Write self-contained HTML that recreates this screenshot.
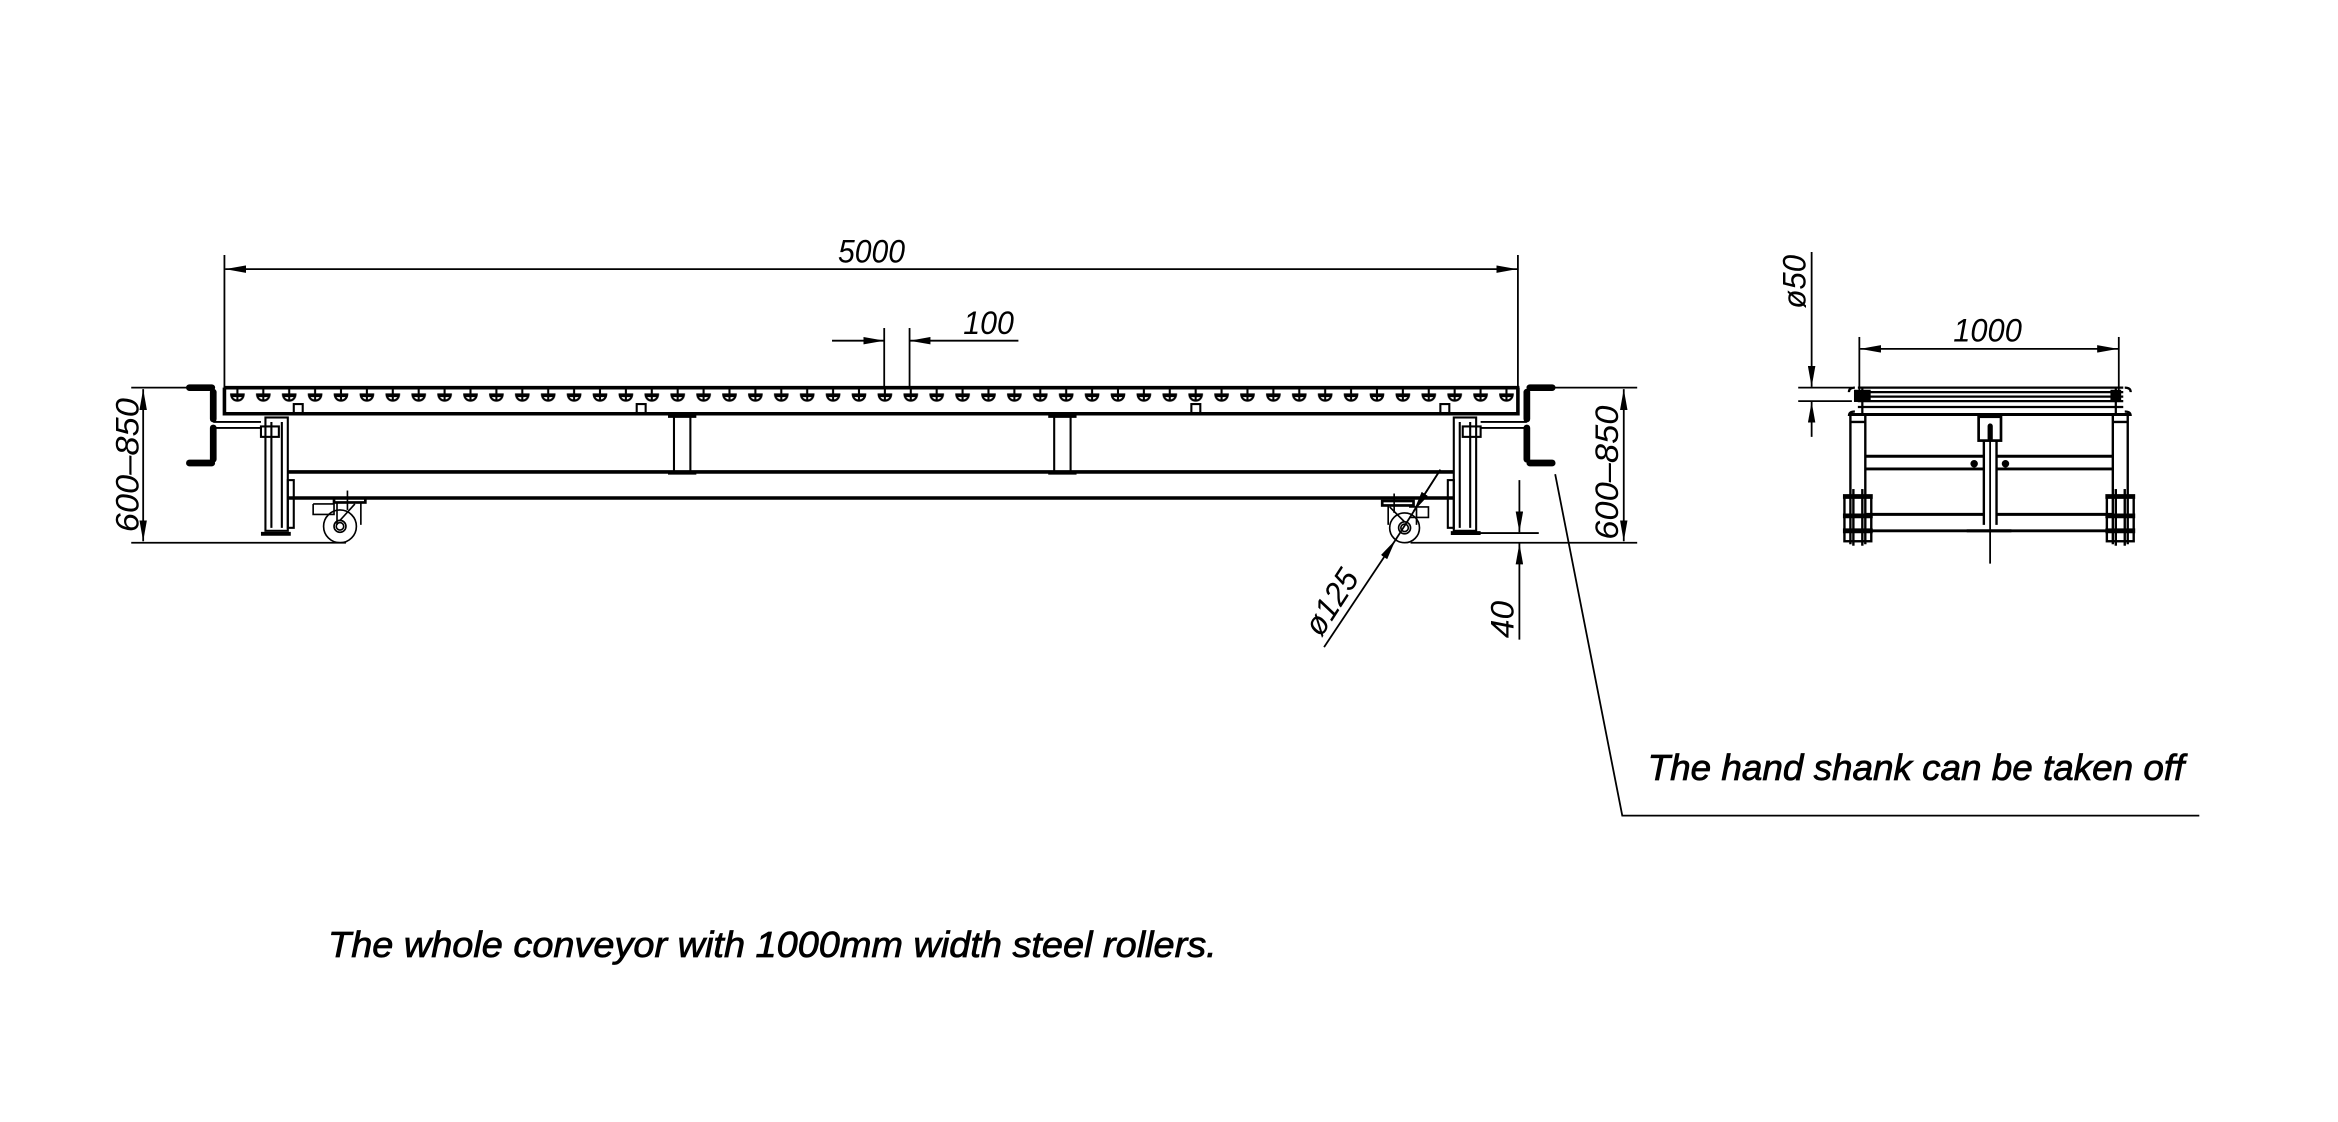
<!DOCTYPE html>
<html><head><meta charset="utf-8"><style>
html,body{margin:0;padding:0;background:#fff;}
svg{display:block;}
text{font-family:"Liberation Sans",sans-serif;font-style:italic;fill:#000;}
</style></head><body>
<svg width="2338" height="1122" viewBox="0 0 1568 752.5" xmlns="http://www.w3.org/2000/svg">
<defs>
<marker id="a" viewBox="0 0 14 5" refX="14" refY="2.5" markerWidth="14" markerHeight="5" markerUnits="userSpaceOnUse" orient="auto-start-reverse"><path d="M0,0 L14,2.5 L0,5 z" fill="#000"/></marker>
<pattern id="rol" x="150.2" y="258" width="17.37" height="16" patternUnits="userSpaceOnUse">
<path d="M4.8,6.5 A4.2,4.2 0 0 0 13.2,6.5 Z M9,3 V11 M5.2,7.6 H12.8" fill="none" stroke="#000" stroke-width="1.4"/>
</pattern>
</defs>
<g fill="none" stroke="#000" stroke-width="1.2">
<line x1="150.5" y1="171" x2="150.5" y2="262"/>
<line x1="1018" y1="171" x2="1018" y2="262"/>
<line x1="151" y1="180.5" x2="1017.5" y2="180.5" marker-start="url(#a)" marker-end="url(#a)"/>
<line x1="593" y1="220" x2="593" y2="261"/>
<line x1="610" y1="220" x2="610" y2="261"/>
<line x1="558" y1="228.5" x2="593" y2="228.5" marker-end="url(#a)"/>
<line x1="683" y1="228.5" x2="610" y2="228.5" marker-end="url(#a)"/>
<line x1="88" y1="260" x2="126" y2="260"/>
<line x1="88" y1="364" x2="232" y2="364"/>
<line x1="96" y1="261" x2="96" y2="363" marker-start="url(#a)" marker-end="url(#a)"/>
<line x1="1043" y1="260" x2="1098" y2="260"/>
<line x1="946" y1="364" x2="1098" y2="364"/>
<line x1="1089" y1="261" x2="1089" y2="363" marker-start="url(#a)" marker-end="url(#a)"/>
<line x1="985" y1="357.5" x2="1032" y2="357.5"/>
<line x1="1019" y1="322" x2="1019" y2="357" marker-end="url(#a)"/>
<line x1="1019" y1="429" x2="1019" y2="364.5" marker-end="url(#a)"/>
<line x1="888" y1="434" x2="936" y2="362" marker-end="url(#a)"/>
<line x1="936" y1="362" x2="966" y2="315"/>
<line x1="966" y1="315" x2="948" y2="343" marker-end="url(#a)"/>
<polyline points="1043,318 1088,547 1475,547"/>
</g>
<rect x="150.5" y="258" width="867" height="14" fill="url(#rol)"/>
<g fill="none" stroke="#000">
<line x1="150" y1="260" x2="1019" y2="260" stroke-width="2.4"/>
<polyline points="150.5,260 150.5,277.5 1018,277.5 1018,260" stroke-width="2.4"/>
<rect x="197" y="271" width="6" height="6" stroke-width="1.4"/>
<rect x="427" y="271" width="6" height="6" stroke-width="1.4"/>
<rect x="799" y="271" width="6" height="6" stroke-width="1.4"/>
<rect x="966" y="271" width="6" height="6" stroke-width="1.4"/>
<line x1="193" y1="316.5" x2="975" y2="316.5" stroke-width="2.4"/>
<line x1="193" y1="334" x2="975" y2="334" stroke-width="2.4"/>
<g stroke-width="1.4">
<line x1="452" y1="279" x2="452" y2="316"/><line x1="463" y1="279" x2="463" y2="316"/>
<line x1="707" y1="279" x2="707" y2="316"/><line x1="718" y1="279" x2="718" y2="316"/>
</g>
<g stroke-width="2.6">
<line x1="448" y1="279" x2="467" y2="279"/><line x1="448" y1="317" x2="467" y2="317"/>
<line x1="703" y1="279" x2="722" y2="279"/><line x1="703" y1="317" x2="722" y2="317"/>
</g>
<g stroke-width="1.4">
<rect x="178" y="280" width="15" height="76"/>
<line x1="182" y1="283" x2="182" y2="354"/><line x1="189" y1="283" x2="189" y2="354"/>
<rect x="175" y="286" width="12" height="7"/>
<rect x="193" y="322" width="4" height="32"/>
</g>
<line x1="175" y1="358" x2="195" y2="358" stroke-width="2.6"/>
<g stroke-width="4.5" stroke-linecap="round">
<line x1="127" y1="260" x2="142" y2="260"/>
<line x1="143" y1="263" x2="143" y2="281"/>
<line x1="143" y1="287" x2="143" y2="308"/>
<line x1="127" y1="310.5" x2="142" y2="310.5"/>
</g>
<g stroke-width="1.3"><line x1="143" y1="283" x2="175" y2="283"/><line x1="143" y1="287" x2="175" y2="287"/></g>
<g stroke-width="1.1">
<rect x="224" y="334" width="21" height="3" stroke-width="1.8"/>
<line x1="233" y1="329" x2="233" y2="342"/>
<polyline points="210,338 224,338 224,345 210,345 210,338"/>
<line x1="226" y1="337" x2="226" y2="352"/><line x1="242" y1="337" x2="242" y2="352"/>
<circle cx="228" cy="353" r="11"/>
<circle cx="228" cy="353" r="4"/><circle cx="228" cy="353" r="2.5"/>
<line x1="228" y1="349" x2="238" y2="338"/>
</g>
<g stroke-width="1.4">
<rect x="975" y="280" width="15" height="76"/>
<line x1="979" y1="283" x2="979" y2="354"/><line x1="986" y1="283" x2="986" y2="354"/>
<rect x="981" y="286" width="12" height="7"/>
<rect x="971" y="322" width="4" height="32"/>
</g>
<line x1="973" y1="357.5" x2="993" y2="357.5" stroke-width="2.6"/>
<g stroke-width="4.5" stroke-linecap="round">
<line x1="1026" y1="260" x2="1041" y2="260"/>
<line x1="1024" y1="263" x2="1024" y2="281"/>
<line x1="1024" y1="287" x2="1024" y2="308"/>
<line x1="1026" y1="310.5" x2="1041" y2="310.5"/>
</g>
<g stroke-width="1.3"><line x1="993" y1="283" x2="1024" y2="283"/><line x1="993" y1="287" x2="1024" y2="287"/></g>
<g stroke-width="1.1">
<rect x="927" y="336" width="21" height="3" stroke-width="1.8"/>
<line x1="935" y1="331" x2="935" y2="344"/>
<polyline points="945,340 958,340 958,347 945,347"/>
<line x1="931" y1="339" x2="931" y2="352"/><line x1="950" y1="339" x2="950" y2="352"/>
<circle cx="942" cy="354" r="10"/>
<circle cx="942" cy="354" r="4"/><circle cx="942" cy="354" r="2.5"/>
<line x1="942" y1="350" x2="932" y2="340"/>
</g>
</g>
<g fill="none" stroke="#000" stroke-width="1.2">
<line x1="1215" y1="169" x2="1215" y2="259.5" marker-end="url(#a)"/>
<line x1="1215" y1="293" x2="1215" y2="269.5" marker-end="url(#a)"/>
<line x1="1206" y1="260" x2="1242" y2="260"/>
<line x1="1206" y1="269" x2="1242" y2="269"/>
<line x1="1247" y1="226" x2="1247" y2="262"/>
<line x1="1421" y1="226" x2="1421" y2="262"/>
<line x1="1247.5" y1="234" x2="1420.5" y2="234" marker-start="url(#a)" marker-end="url(#a)"/>
<g stroke-width="1.5">
<line x1="1246" y1="260" x2="1424" y2="260"/>
<line x1="1246" y1="263" x2="1424" y2="263"/>
<line x1="1246" y1="266" x2="1424" y2="266"/>
<line x1="1246" y1="269" x2="1424" y2="269"/>
<line x1="1246" y1="273" x2="1424" y2="273"/>
<line x1="1249" y1="260" x2="1249" y2="278"/><line x1="1419" y1="260" x2="1419" y2="278"/>
</g>
<path d="M1240,263 q0,-3 4,-3 M1429,263 q0,-3 -4,-3 M1240,279 q0,-3 4,-3 M1429,279 q0,-3 -4,-3" stroke-width="1.5"/>
<rect x="1244" y="262" width="10" height="7" fill="#000"/>
<rect x="1416" y="262" width="6" height="7" fill="#000"/>
<line x1="1240" y1="278" x2="1429" y2="278" stroke-width="2"/>
<g stroke-width="1.6">
<line x1="1241" y1="278" x2="1241" y2="365"/><line x1="1251" y1="278" x2="1251" y2="365"/>
<line x1="1417" y1="278" x2="1417" y2="365"/><line x1="1427" y1="278" x2="1427" y2="365"/>
<line x1="1241" y1="283" x2="1251" y2="283"/><line x1="1417" y1="283" x2="1427" y2="283"/>
</g>
<g stroke-width="2">
<line x1="1251" y1="306" x2="1331" y2="306"/><line x1="1339" y1="306" x2="1417" y2="306"/>
<line x1="1251" y1="314.5" x2="1331" y2="314.5"/><line x1="1339" y1="314.5" x2="1417" y2="314.5"/>
<line x1="1251" y1="345" x2="1331" y2="345"/><line x1="1339" y1="345" x2="1417" y2="345"/>
<line x1="1251" y1="356" x2="1417" y2="356"/>
</g>
<rect x="1327" y="279.5" width="15" height="16" stroke-width="1.8"/>
<line x1="1330.5" y1="296" x2="1330.5" y2="352" stroke-width="1.6"/>
<line x1="1339" y1="296" x2="1339" y2="352" stroke-width="1.6"/>
<line x1="1334.7" y1="284" x2="1334.7" y2="378"/>
<rect x="1333" y="284" width="3.5" height="12" rx="1.7" fill="#000" stroke="none"/>
<circle cx="1324" cy="311" r="2.5" fill="#000" stroke="none"/>
<circle cx="1345" cy="311" r="2.5" fill="#000" stroke="none"/>
<rect x="1319" y="355" width="30" height="2" fill="#000" stroke="none"/>
<g stroke-width="1.6">
<rect x="1237" y="333" width="18" height="30"/>
<line x1="1243" y1="328" x2="1243" y2="366"/><line x1="1249" y1="328" x2="1249" y2="366"/>
<rect x="1413" y="333" width="18" height="30"/>
<line x1="1419" y1="328" x2="1419" y2="366"/><line x1="1425" y1="328" x2="1425" y2="366"/>
</g>
<g stroke-width="3.2">
<line x1="1236" y1="333" x2="1256" y2="333"/><line x1="1236" y1="356" x2="1256" y2="356"/><line x1="1236" y1="346" x2="1256" y2="346"/>
<line x1="1412" y1="333" x2="1432" y2="333"/><line x1="1412" y1="356" x2="1432" y2="356"/><line x1="1412" y1="346" x2="1432" y2="346"/>
</g>
</g>
<g font-size="22">
<text x="562" y="176" textLength="45" lengthAdjust="spacingAndGlyphs">5000</text>
<text x="646" y="224" textLength="34" lengthAdjust="spacingAndGlyphs">100</text>
<text x="1310" y="229" textLength="46" lengthAdjust="spacingAndGlyphs">1000</text>
<text transform="translate(93,357) rotate(-90)" textLength="90" lengthAdjust="spacingAndGlyphs">600–850</text>
<text transform="translate(1085,362) rotate(-90)" textLength="90" lengthAdjust="spacingAndGlyphs">600–850</text>
<text transform="translate(1015,428) rotate(-90)" textLength="25" lengthAdjust="spacingAndGlyphs">40</text>
<text transform="translate(1211,207) rotate(-90)" textLength="36" lengthAdjust="spacingAndGlyphs">ø50</text>
<text transform="translate(886,428) rotate(-57)" textLength="48" lengthAdjust="spacingAndGlyphs">ø125</text>
</g>
<g stroke="#000" stroke-width="0.5">
<text x="1105" y="523" font-size="24" textLength="360" lengthAdjust="spacingAndGlyphs">The hand shank can be taken off</text>
<text x="220" y="642" font-size="24" textLength="596" lengthAdjust="spacingAndGlyphs">The whole conveyor with 1000mm width steel rollers.</text>
</g>
</svg>
</body></html>
